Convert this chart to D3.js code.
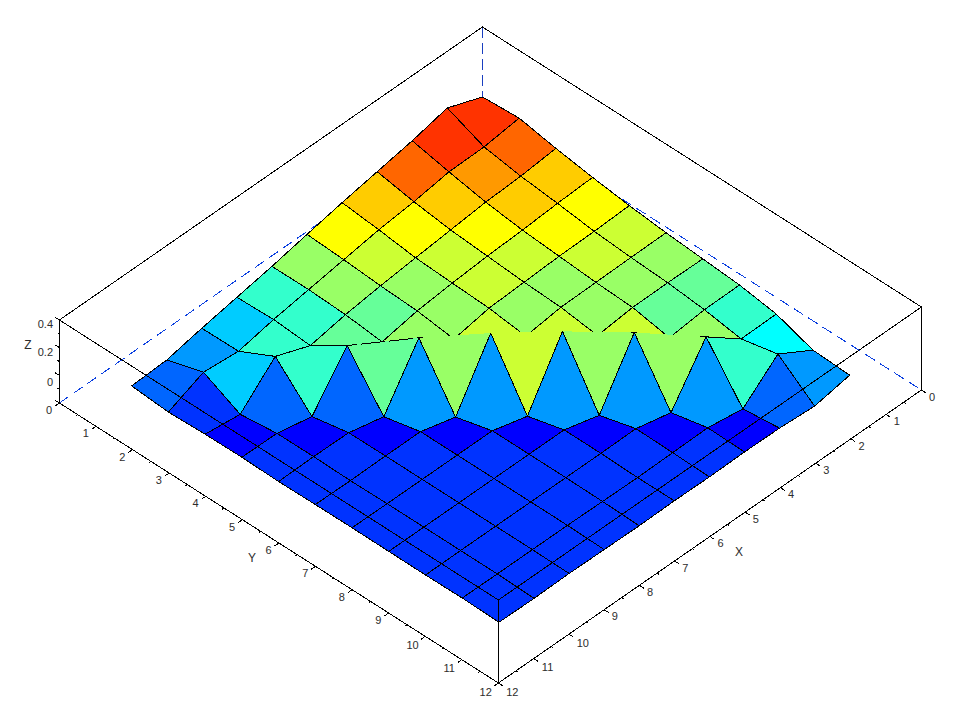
<!DOCTYPE html>
<html>
<head>
<meta charset="utf-8">
<style>
html,body{margin:0;padding:0;background:#fff}
svg{display:block}
text{font-family:"Liberation Sans",Arial,sans-serif;font-size:11px;fill:#2a2a2a}
</style>
<script src="https://cdn.jsdelivr.net/npm/d3@7/dist/d3.min.js"></script>
</head>
<body>
<svg id="chart" width="962" height="720"></svg>
<script>
// ---------- data ----------
const gridX = [0,0.995,1.99,2.985,3.98,4.975,5.97,6.965,7.96,8.955,9.95];
const gridY = [0,1.004,2.008,3.012,4.016,5.02,6.024,7.028,8.032,9.036,10.04];
// surface height at each grid node: one row per x index, one column per y index
const zRow0  = [.063,.074,.041,.014,-.009,-.027,-.040,-.053,-.080,-.141,-.149];
const zRow1  = [.127,.052,.024,.006,-.016,-.029,-.038,-.055,-.083,-.043,-.181];
const zRow2  = [.086,.049,.016,-.006,-.019,-.032,-.040,-.073,.044,-.190,-.170];
const zRow3  = [.054,.022,-.001,-.014,-.027,-.035,-.058,.069,-.204,-.164,-.168];
const zRow4  = [.022,.004,-.018,-.027,-.035,-.057,.079,-.213,-.164,-.167,-.171];
const zRow5  = [-.014,-.023,-.036,-.044,-.067,.075,-.213,-.166,-.166,-.170,-.169];
const zRow6  = [-.051,-.050,-.058,-.076,.056,-.213,-.166,-.166,-.166,-.168,-.172];
const zRow7  = [-.083,-.077,-.090,.023,-.207,-.166,-.166,-.166,-.166,-.166,-.170];
const zRow8  = [-.115,-.113,-.025,-.202,-.167,-.166,-.166,-.166,-.166,-.166,-.168];
const zRow9  = [-.151,-.097,-.187,-.166,-.165,-.168,-.166,-.166,-.166,-.166,-.171];
const zRow10 = [-.159,-.172,-.166,-.164,-.168,-.166,-.165,-.166,-.167,-.165,-.169];
const zRows = [zRow0,zRow1,zRow2,zRow3,zRow4,zRow5,zRow6,zRow7,zRow8,zRow9,zRow10];
// colour level of each facet
const level0 = [14,13,11,10,9,8,7,6,5,3];
const level1 = [14,12,11,10,9,8,7,8,6,2];
const level2 = [13,11,10,9,8,8,9,8,3,0];
const level3 = [11,10,9,9,8,9,8,3,0,1];
const level4 = [10,9,8,8,9,9,3,0,1,1];
const level5 = [8,8,7,8,8,3,0,1,1,1];
const level6 = [6,6,7,7,3,0,1,1,1,1];
const level7 = [4,6,6,2,0,1,1,1,1,1];
const level8 = [3,4,2,0,1,1,1,1,1,1];
const level9 = [2,1,0,1,1,1,1,1,1,1];
const levels = [level0,level1,level2,level3,level4,level5,level6,level7,level8,level9];
const palette = ["#0000ff","#0033ff","#0066ff","#0099ff","#00ccff","#00ffff","#33ffcc","#66ff99",
                 "#99ff66","#ccff33","#ffff00","#ffcc00","#ff9900","#ff6600","#ff3300"];
const colorOf = d3.scaleOrdinal(d3.range(palette.length), palette);
// facets whose upper edges collapse to a straight chord with no outline
const chordFacets = ["5,4","4,5","3,6","2,7"];
const dashedFacets = ["6,3"];
const tippedFacets = ["3,7","2,8"];
const xTickLabels = ["0","1","2","3","4","5","6","7","8","9","10","11","12"];
const yTickLabels = ["0","1","2","3","4","5","6","7","8","9","10","11","12"];
const zTickVals = [0,0.133,0.267,0.4];
const zLabelText = ["0","0.2","0.4"];
const zLabelPos = [0.101,0.246,0.381];
const xMax = 12, yMax = 12, zMax = 0.4;

// ---------- scales ----------
const sxH = d3.scaleLinear([0,xMax],[0,-423]), sxV = d3.scaleLinear([0,xMax],[0,293]);
const syH = d3.scaleLinear([0,yMax],[0,439]),  syV = d3.scaleLinear([0,yMax],[0,280]);
const szV = d3.scaleLinear([0,zMax],[0,-83]);
const ox = 482.4, oy = 110;
const P = (x,y,z=0) => [ox+sxH(x)+syH(y), oy+sxV(x)+syV(y)+szV(z)];

const svg = d3.select("#chart");
const BLACK = "#000";
const line = d3.line();
const seg = (g,pts,stroke=BLACK,dash=null) => g.append("path").attr("d",line(pts))
  .attr("fill","none").attr("stroke",stroke).attr("stroke-width",1)
  .attr("shape-rendering","crispEdges").attr("stroke-dasharray",dash);

// hidden back edges
const back = svg.append("g");
const BLUE = "#0a3fe0";
seg(back,[P(xMax,0),P(0,0),P(0,yMax)],BLUE,"11 6");
seg(back,[P(0,0,zMax),P(0,0)],"#1a3fc0","11 5");

// surface, back to front
const surf = svg.append("g");
const nodes = (i,j) => P(gridX[i],gridY[j],zRows[i][j]);
const cells = [];
levels.forEach((row,i)=>row.forEach((lv,j)=>cells.push({i,j,lv})));
cells.sort((a,b)=>(a.i+a.j)-(b.i+b.j) || a.i-b.i);
cells.forEach(c=>{
  const {i,j,lv} = c, key = i+","+j;
  const t = nodes(i,j), l = nodes(i+1,j), b = nodes(i+1,j+1), r = nodes(i,j+1);
  const chord = chordFacets.includes(key);
  const poly = chord ? [l,b,r] : [t,l,b,r];
  surf.append("path").attr("d",line(poly)+"Z").attr("fill",colorOf(lv))
    .attr("stroke","none").attr("shape-rendering","crispEdges");
  if (chord) {
    seg(surf,[l,b,r]);
  } else if (dashedFacets.includes(key)) {
    seg(surf,[l,b,r]);
    seg(surf,[l,t,r],BLACK,"10 4");
  } else {
    seg(surf,[t,l,b,r,t]);
  }
  if (tippedFacets.includes(key)) seg(surf,[[t[0]-3,t[1]],[t[0]+3,t[1]]]);
});

// visible box edges
const box = svg.append("g");
seg(box,[P(xMax,0,zMax),P(0,0,zMax),P(0,yMax,zMax)]);
seg(box,[P(xMax,0,zMax),P(xMax,yMax,zMax),P(0,yMax,zMax)]);
seg(box,[P(xMax,0,zMax),P(xMax,0)]);
seg(box,[P(0,yMax,zMax),P(0,yMax)]);
seg(box,[P(xMax,yMax,zMax),P(xMax,yMax)]);
seg(box,[P(xMax,0),P(xMax,yMax),P(0,yMax)]);

// ticks
const axes = svg.append("g");
d3.range(0,12.01,0.5).forEach(v=>{
  const major = Number.isInteger(v), len = major ? 0.12 : 0.05;
  seg(axes,[P(xMax,v),P(xMax+len,v)]);
  seg(axes,[P(v,yMax),P(v,yMax+len)]);
});
const zTicks = [];
zTickVals.forEach((z,k)=>{
  zTicks.push([z,0.12]);
  if (k<zTickVals.length-1) zTicks.push([(z+zTickVals[k+1])/2,0.05]);
});
zTicks.forEach(([z,len])=>seg(axes,[P(xMax,0,z),P(xMax,-len,z)]));

// labels
const labels = svg.append("g").style("opacity",0.99);
const lab = (p,s,anchor="middle") => labels.append("text").attr("x",p[0]).attr("y",p[1])
  .attr("dy","0.36em").attr("text-anchor",anchor).text(s);
yTickLabels.forEach((s,k)=>lab(P(xMax+(s.length>1?0.36:0.29),k),s));
xTickLabels.forEach((s,k)=>lab(P(k,yMax+(s.length>1?0.38:0.29)),s));
zLabelText.forEach((s,k)=>{const p=P(xMax,0,zLabelPos[k]);lab([53,p[1]],s,"end");});
lab([252,558],"Y").style("font-size","12px");
lab([739,552],"X").style("font-size","12px");
lab([28,345],"Z").style("font-size","12px");
</script>
</body>
</html>
